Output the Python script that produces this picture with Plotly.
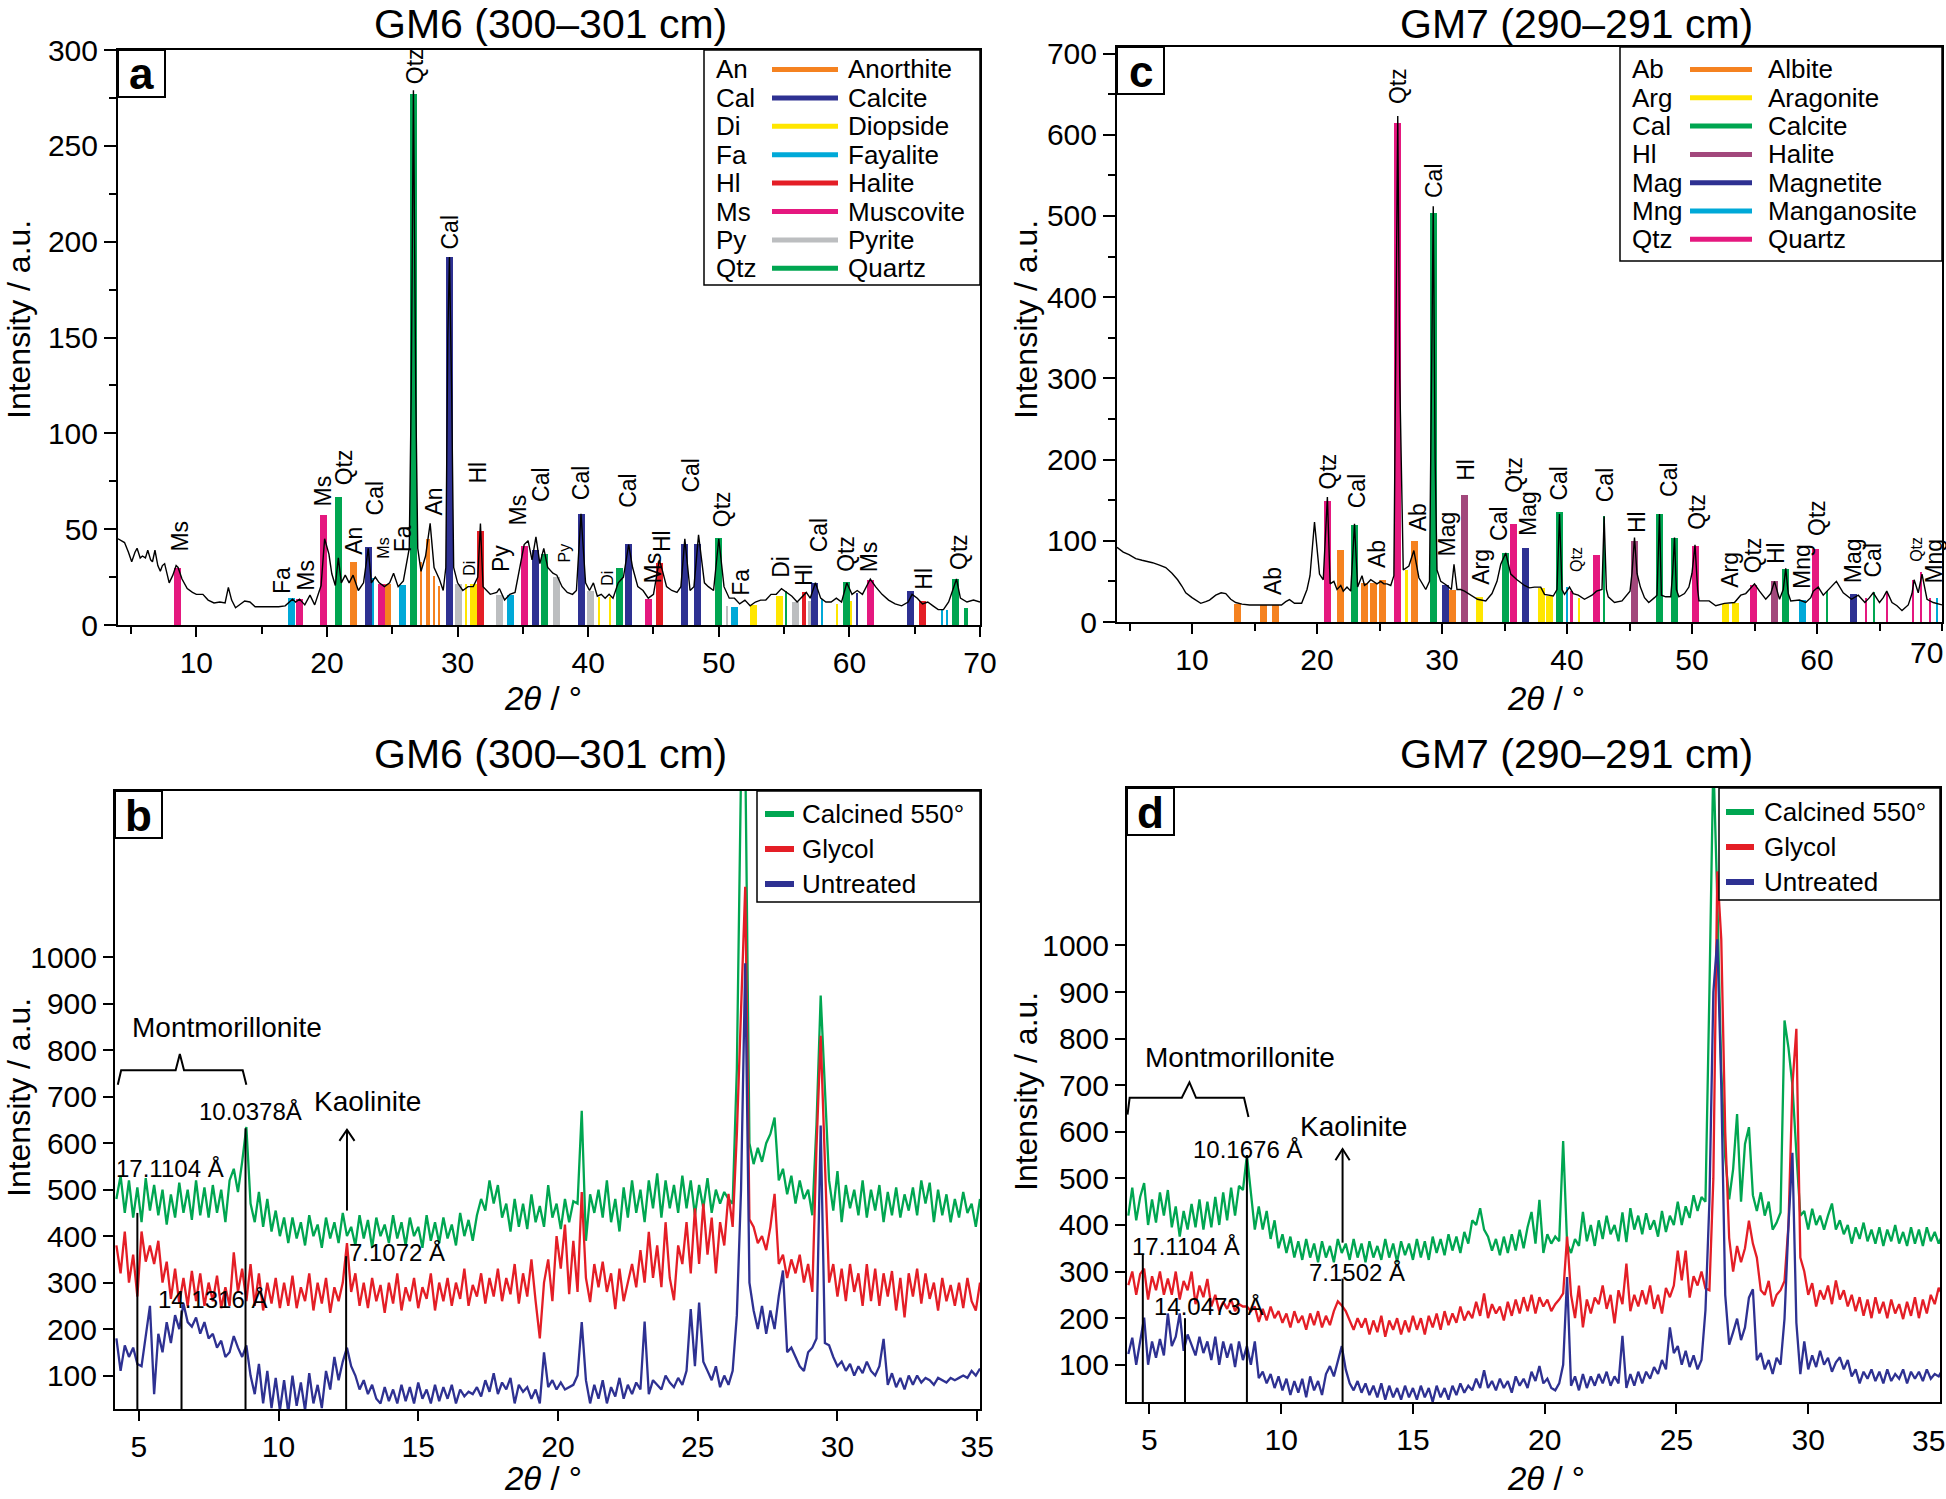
import plotly.graph_objects as go

W, H = 1946, 1499
SANS = "Liberation Sans, Arial, Helvetica, sans-serif"

# ============================ DATA ============================
# ---- Panel a : GM6 (300-301 cm) bulk XRD ----
a_pattern = [(4.0, 45), (4.25, 44), (4.5, 43), (4.8, 38), (5.05, 33), (5.3, 38), (5.46, 40), (5.7, 35), (5.87, 36),
             (6.1, 35), (6.28, 39), (6.5, 34), (6.64, 33), (6.83, 39), (7.05, 31), (7.24, 28), (7.4, 31), (7.57, 32),
             (7.75, 26), (7.92, 22), (8.2, 26), (8.45, 31), (8.6, 30), (8.9, 24), (9.3, 19), (9.7, 17), (10.0, 16),
             (10.5, 16), (10.9, 13), (11.35, 11.5), (11.8, 12), (12.2, 11.5), (12.45, 19.6), (12.7, 13), (13.0, 9),
             (13.4, 11), (13.7, 12.5), (14.1, 12), (14.5, 9.5), (15.0, 9.5), (15.7, 9.5), (16.3, 9.5), (16.8, 10),
             (17.36, 13.5), (17.6, 12), (17.9, 13.5), (18.3, 10.5), (18.7, 15.6), (19.06, 10.5), (19.55, 20.6),
             (19.82, 45), (20.15, 37), (20.37, 26.7), (20.64, 20.6), (20.87, 35), (21.1, 22), (21.4, 26), (21.7, 22),
             (22.0, 26), (22.4, 18), (22.8, 22), (23.16, 40), (23.4, 22), (23.7, 25), (24.0, 22), (24.4, 20),
             (24.8, 22), (25.1, 27), (25.45, 20), (25.85, 23), (26.3, 40), (26.45, 120), (26.62, 279), (26.8, 120),
             (26.95, 40), (27.2, 28), (27.55, 36), (27.9, 53), (28.2, 30), (28.6, 24), (28.9, 18), (29.1, 30),
             (29.25, 150), (29.38, 192), (29.55, 120), (29.7, 30), (30.0, 22), (30.4, 18), (30.8, 20), (31.2, 20),
             (31.55, 25), (31.75, 53), (31.95, 20), (32.5, 16), (33.0, 17), (33.2, 19), (33.6, 13), (34.0, 16),
             (34.4, 17), (34.8, 32), (35.1, 42), (35.4, 44), (35.7, 34), (36.0, 46), (36.3, 32), (36.6, 40),
             (36.9, 30), (37.3, 27), (37.6, 26), (38.0, 20), (38.4, 17), (38.8, 16), (39.1, 18), (39.45, 58),
             (39.8, 22), (40.1, 18), (40.4, 22), (40.7, 15), (41.0, 16), (41.3, 14), (41.6, 16), (41.9, 14),
             (42.3, 22), (42.7, 25), (43.1, 42), (43.4, 30), (43.8, 20), (44.2, 18), (44.6, 14), (45.0, 16),
             (45.45, 34), (45.7, 28), (46.0, 20), (46.4, 18), (46.8, 17), (47.1, 20), (47.4, 45), (47.8, 18),
             (48.1, 20), (48.45, 47), (48.9, 22), (49.2, 20), (49.6, 18), (50.0, 45), (50.4, 20), (50.8, 14),
             (51.2, 14), (51.6, 11), (52.0, 13), (52.4, 10), (52.8, 12), (53.2, 13), (53.6, 13), (54.0, 16),
             (54.4, 16), (54.8, 19), (55.2, 17), (55.6, 15), (56.0, 12), (56.4, 15), (56.7, 17), (57.0, 14),
             (57.4, 22), (57.8, 14), (58.2, 12), (58.6, 12), (59.0, 14), (59.4, 12), (59.8, 22), (60.2, 16),
             (60.6, 18), (61.0, 16), (61.6, 24), (62.0, 20), (62.5, 16), (63.0, 13), (63.5, 11), (64.0, 10),
             (64.5, 12), (64.8, 16), (65.2, 14), (65.6, 11), (66.0, 12), (66.4, 10), (66.8, 8), (67.2, 8),
             (67.6, 12), (68.0, 20), (68.2, 24), (68.5, 14), (69.0, 12), (69.5, 13), (70.0, 12)]

a_stick_x = [8.53, 17.3, 17.9, 19.77, 20.87, 22.04, 23.16, 23.5, 24.15, 24.6, 25.8, 26.62, 27.2, 27.76, 28.17,
             28.58, 29.36, 30.1, 30.65, 31.2, 31.73, 33.2, 34.06, 35.15, 36.0, 36.66, 37.6, 39.45, 40.15, 40.8,
             41.65, 42.38, 43.1, 44.62, 45.45, 47.37, 48.4, 50.0, 50.64, 51.2, 52.65, 54.64, 55.15, 55.87, 56.5,
             56.94, 57.35, 57.9, 59.03, 59.74, 60.15, 60.58, 61.6, 64.64, 65.6, 67.1, 67.5, 68.1, 68.93]
a_stick_h = [30, 14, 13.5, 57.6, 67, 32.7, 40.8, 24.6, 21.6, 21.6, 21, 277, 32.7, 44.8, 25.6,
             20.6, 192, 21.6, 21.6, 21.6, 48.9, 15.6, 15.6, 41.2, 39.2, 37.2, 25, 58, 17.6, 14.5,
             14.5, 29.7, 42.4, 13.5, 32.3, 42.4, 42.4, 45.3, 10, 9.5, 10.5, 15, 18, 12, 17,
             12.5, 22, 13.5, 11, 22.6, 12.5, 16.6, 23.6, 17.6, 12.5, 8, 8, 24, 8.9]
a_stick_phase = ["Ms", "Fa", "Ms", "Ms", "Qtz", "An", "Cal", "Fa", "Ms", "An", "Fa", "Qtz", "An", "An", "An",
                 "An", "Cal", "Py", "Di", "Di", "Hl", "Py", "Fa", "Ms", "Cal", "Qtz", "Py", "Cal", "Py", "Di",
                 "Di", "Qtz", "Cal", "Ms", "Hl", "Cal", "Cal", "Qtz", "Py", "Fa", "Di", "Di", "Qtz", "Py", "Hl",
                 "Py", "Cal", "Fa", "Di", "Qtz", "Di", "Cal", "Ms", "Cal", "Hl", "Fa", "Fa", "Qtz", "Qtz"]

a_label_text = ["Ms", "Fa", "Ms", "Ms", "Qtz", "An", "Cal", "Ms", "Fa", "Qtz", "An", "Cal", "Di", "Hl", "Py",
                "Ms", "Cal", "Py", "Cal", "Di", "Cal", "Ms", "Hl", "Cal", "Qtz", "Fa", "Di", "Hl", "Cal", "Qtz",
                "Ms", "Hl", "Qtz"]
a_label_x = [8.75, 16.5, 18.4, 19.7, 21.33, 22.1, 23.7, 24.35, 25.85, 26.8, 28.18, 29.4, 30.9, 31.6, 33.38,
             34.6, 36.4, 38.2, 39.4, 41.5, 43.0, 45.0, 45.7, 47.9, 50.25, 51.7, 54.77, 56.56, 57.7, 59.74,
             61.5, 65.74, 68.4]
a_label_y = [37, 15, 16.6, 60.6, 72, 35.8, 56, 33.7, 36.8, 281, 56, 195, 24.6, 73, 26.7,
             51, 63, 31.7, 64, 19.6, 60, 20.6, 36.8, 68, 50, 14.5, 23.6, 19.6, 36.8, 26.7,
             26.7, 17.6, 27.7]

a_legend_abbr = ["An", "Cal", "Di", "Fa", "Hl", "Ms", "Py", "Qtz"]
a_legend_name = ["Anorthite", "Calcite", "Diopside", "Fayalite", "Halite", "Muscovite", "Pyrite", "Quartz"]

# ---- Panel c : GM7 (290-291 cm) bulk XRD ----
c_pattern = [(4.0, 92), (4.5, 86), (4.96, 83), (5.5, 78), (6.0, 76), (6.84, 73), (7.4, 70), (7.9, 67), (8.4, 60),
             (8.85, 52), (9.2, 44), (9.5, 36), (10.0, 30), (10.7, 23), (11.1, 25), (11.4, 27), (11.9, 33),
             (12.33, 36), (12.7, 35), (13.1, 28), (13.5, 24), (14.0, 22), (14.6, 21), (15.5, 21), (16.5, 21),
             (17.16, 21), (17.5, 25), (17.8, 27.5), (18.2, 23), (18.77, 23), (19.2, 40), (19.44, 57), (19.8, 123),
             (20.2, 59), (20.5, 52), (20.83, 154), (21.05, 47), (21.35, 50), (21.6, 40), (21.9, 45), (22.1, 38),
             (22.4, 43), (22.7, 38), (23.0, 121), (23.25, 43), (23.6, 57), (23.8, 45), (24.0, 47), (24.3, 52),
             (24.5, 50), (24.8, 47), (25.1, 50), (25.35, 47), (25.6, 47), (25.9, 45), (26.15, 57), (26.3, 300),
             (26.46, 623), (26.62, 300), (26.9, 64), (27.35, 69), (27.75, 88), (28.15, 54.5), (28.7, 40),
             (29.0, 50), (29.15, 300), (29.3, 512), (29.45, 200), (29.6, 64), (29.9, 50), (30.4, 45), (30.75, 40),
             (30.96, 71), (31.2, 40), (31.5, 40), (31.8, 38), (32.3, 33), (32.84, 28), (33.5, 26), (34.0, 35),
             (34.4, 50), (34.7, 71), (35.1, 85), (35.5, 59), (36.0, 52), (36.6, 45), (37.0, 42), (37.4, 43),
             (37.9, 43), (38.2, 34), (38.9, 32), (39.2, 40), (39.4, 133), (39.6, 40), (39.8, 34), (40.2, 43),
             (40.5, 35), (40.9, 33), (41.4, 28), (42.0, 33), (42.36, 38), (42.8, 40), (42.97, 130), (43.15, 40),
             (43.3, 31), (43.8, 24), (44.4, 26), (45.04, 38), (45.2, 60), (45.4, 104), (45.6, 60), (45.87, 43),
             (46.2, 30), (46.54, 24), (47.0, 30), (47.2, 33), (47.4, 133), (47.55, 33), (47.9, 31), (48.3, 31),
             (48.45, 60), (48.6, 104), (48.75, 40), (48.95, 31), (49.4, 35), (49.75, 43), (50.0, 60), (50.24, 95),
             (50.45, 40), (50.56, 26), (51.0, 26), (51.37, 26), (51.9, 20), (52.6, 23), (53.4, 24), (53.9, 33),
             (54.3, 35), (54.6, 40), (55.0, 47), (55.4, 38), (55.9, 28), (56.3, 35), (56.6, 50), (57.0, 28),
             (57.3, 40), (57.5, 66), (57.7, 35), (57.9, 26), (58.6, 27), (59.1, 24), (59.5, 30), (59.7, 38),
             (60.1, 43), (60.5, 33), (61.15, 43), (61.55, 50), (62.1, 36), (62.76, 28), (63.3, 33), (63.83, 24),
             (64.2, 30), (64.5, 36), (65.0, 24), (65.3, 30), (65.58, 38), (66.0, 24), (66.4, 20), (66.8, 14),
             (67.3, 21), (67.6, 35), (67.77, 52), (68.1, 36), (68.4, 59), (68.8, 28), (69.3, 24), (70.0, 21)]

c_stick_x = [13.62, 15.74, 16.68, 20.83, 21.9, 23.0, 23.78, 24.48, 25.25, 26.46, 27.16, 27.83, 29.3, 30.3,
             30.83, 31.8, 33.0, 35.04, 35.7, 36.65, 37.94, 38.6, 39.4, 39.97, 40.36, 40.95, 42.37, 42.98,
             45.42, 47.4, 48.63, 50.24, 52.65, 53.46, 54.9, 56.6, 57.48, 58.8, 59.84, 60.8, 62.95, 63.9,
             64.58, 65.58, 67.7, 68.34, 69.06, 69.6]
c_stick_h = [22.7, 21, 21, 149, 88.6, 119, 48, 48, 52, 615, 64, 100, 504, 45,
             40, 156, 31, 85, 121, 91, 42, 32, 135, 43, 38, 29, 83, 130,
             99.5, 133, 104, 94, 22.7, 23.7, 46, 51, 65, 27.5, 90, 38, 34, 29,
             37, 37, 52, 62, 29, 29]
c_stick_phase = ["Ab", "Ab", "Ab", "Qtz", "Ab", "Cal", "Ab", "Ab", "Ab", "Qtz", "Arg", "Ab", "Cal", "Mag",
                 "Ab", "Hl", "Arg", "Cal", "Qtz", "Mag", "Arg", "Arg", "Cal", "Mng", "Qtz", "Arg", "Qtz", "Cal",
                 "Hl", "Cal", "Cal", "Qtz", "Arg", "Arg", "Qtz", "Hl", "Cal", "Mng", "Qtz", "Cal", "Mag", "Qtz",
                 "Cal", "Qtz", "Qtz", "Qtz", "Qtz", "Mng"]

c_label_text = ["Ab", "Qtz", "Cal", "Ab", "Qtz", "Ab", "Cal", "Mag", "Hl", "Arg", "Cal", "Qtz", "Mag", "Cal",
                "Qtz", "Cal", "Hl", "Cal", "Qtz", "Arg", "Qtz", "Hl", "Mng", "Qtz", "Mag", "Cal", "Qtz", "Mng"]
c_label_x = [16.5, 20.9, 23.2, 24.8, 26.54, 28.15, 29.36, 30.43, 31.9, 33.1, 34.5, 35.8, 36.87, 39.4,
             40.75, 43.0, 45.6, 48.15, 50.4, 52.98, 54.85, 56.73, 58.74, 59.95, 62.9, 64.5, 68.0, 69.33]
c_label_y = [31, 161, 137, 64, 635, 109, 519, 78, 171, 43, 97, 156, 104, 147,
             59, 145, 107, 152, 111, 40, 57, 69, 38, 104, 45, 52, 71, 45]

c_legend_abbr = ["Ab", "Arg", "Cal", "Hl", "Mag", "Mng", "Qtz"]
c_legend_name = ["Albite", "Aragonite", "Calcite", "Halite", "Magnetite", "Manganosite", "Quartz"]

# ---- Panels b & d : clay fraction scans, 2θ grid start / step ----
scan_start = 4.2
scan_step = 0.15
series_names = ["Calcined 550°", "Glycol", "Untreated"]

b_calcined = [
    480, 530, 450, 520, 440, 505, 430, 525, 455, 510,   # 4.20
    445, 500, 425, 490, 440, 515, 450, 500, 435, 520,   # 5.70
    445, 505, 440, 510, 450, 500, 430, 520, 545, 495,   # 7.20
    560, 635, 470, 430, 495, 420, 480, 410, 455, 400,   # 8.70
    440, 385, 440, 395, 430, 380, 445, 400, 425, 375,   # 10.20
    440, 395, 430, 385, 450, 400, 420, 380, 445, 395,   # 11.70
    435, 375, 440, 400, 425, 385, 445, 395, 430, 380,   # 13.20
    440, 400, 420, 375, 445, 390, 430, 385, 440, 395,   # 14.70
    425, 380, 450, 400, 435, 390, 445, 480, 455, 520,   # 16.20
    470, 510, 440, 470, 410, 480, 420, 470, 415, 490,   # 17.70
    430, 465, 420, 510, 440, 470, 415, 480, 430, 475,   # 19.20
    470, 670, 390, 490, 450, 500, 440, 520, 430, 480,   # 20.70
    410, 505, 440, 520, 450, 500, 430, 520, 460, 535,   # 22.20
    440, 520, 460, 510, 450, 530, 460, 520, 445, 510,   # 23.70
    460, 525, 450, 500, 470, 495, 480, 470, 760, 1400,  # 25.20
    1450, 600, 555, 590, 560, 600, 620, 655, 520, 545,  # 26.70
    490, 530, 470, 520, 480, 500, 445, 640, 918, 700,   # 28.20
    520, 455, 540, 430, 510, 460, 500, 445, 520, 440,   # 29.70
    500, 455, 510, 430, 495, 445, 505, 440, 490, 455,   # 31.20
    505, 445, 520, 470, 515, 430, 500, 445, 490, 430,   # 32.70
    480, 440, 495, 450, 470, 420, 480]                  # 34.20
b_glycol = [
    380, 320, 410, 300, 360, 270, 410, 345, 380, 340,
    390, 300, 345, 265, 330, 255, 310, 250, 325, 260,
    320, 250, 300, 260, 315, 245, 290, 250, 365, 280,
    330, 260, 340, 250, 320, 240, 300, 255, 310, 245,
    300, 250, 315, 245, 290, 260, 320, 240, 300, 255,
    310, 235, 290, 260, 300, 385, 280, 320, 250, 300,
    245, 310, 260, 295, 235, 300, 255, 320, 240, 290,
    260, 310, 245, 290, 265, 320, 240, 300, 260, 310,
    250, 300, 265, 330, 250, 295, 270, 320, 255, 310,
    270, 330, 260, 310, 275, 340, 255, 320, 270, 350,
    260, 180, 300, 350, 260, 400, 330, 425, 275, 390,
    280, 495, 310, 258, 340, 290, 345, 280, 320, 243,
    330, 260, 300, 340, 290, 370, 300, 409, 310, 380,
    290, 430, 310, 262, 380, 340, 430, 320, 460, 340,
    470, 360, 440, 320, 430, 380, 491, 420, 620, 900,
    1152, 436, 420, 385, 400, 370, 420, 491, 340, 360,
    310, 350, 320, 360, 300, 340, 280, 592, 831, 560,
    300, 340, 270, 330, 260, 340, 280, 320, 250, 340,
    260, 330, 250, 320, 270, 325, 240, 310, 225, 320,
    270, 330, 255, 320, 265, 300, 240, 310, 260, 295,
    250, 300, 245, 310, 260, 240, 300]
b_untreated = [
    180, 110, 165, 140, 160, 125, 120, 180, 250, 60,
    190, 150, 215, 170, 230, 200, 255, 215, 205, 225,
    190, 215, 180, 190, 160, 175, 140, 150, 185, 160,
    140, 165, 100, 60, 125, 40, 110, 30, 95, 25,
    90, 20, 100, 35, 85, 25, 105, 40, 80, 30,
    110, 70, 140, 90, 130, 160, 120, 100, 70, 90,
    60, 80, 50, 40, 75, 45, 70, 40, 80, 45,
    75, 40, 85, 50, 70, 40, 80, 45, 75, 50,
    80, 40, 70, 55, 65, 60, 75, 55, 90, 65,
    105, 60, 85, 70, 95, 40, 80, 65, 75, 50,
    70, 40, 150, 75, 90, 70, 85, 70, 75, 80,
    100, 215, 90, 40, 80, 50, 90, 40, 75, 55,
    95, 50, 80, 60, 85, 70, 216, 60, 90, 80,
    70, 100, 85, 75, 95, 80, 110, 243, 120, 257,
    130, 110, 90, 120, 75, 100, 80, 110, 230, 500,
    987, 300, 240, 200, 250, 190, 240, 200, 271, 326,
    150, 160, 140, 120, 110, 150, 160, 180, 638, 170,
    165, 140, 120, 130, 110, 125, 100, 120, 105, 130,
    110, 100, 120, 179, 80, 105, 75, 95, 70, 100,
    80, 100, 85, 95, 90, 80, 95, 90, 85, 95,
    90, 95, 100, 95, 110, 100, 115]

d_calcined = [
    420, 480, 410, 460, 490, 400, 455, 405, 470, 420,
    475, 395, 440, 375, 430, 390, 445, 395, 455, 390,
    450, 395, 460, 400, 470, 410, 480, 420, 484, 475,
    550, 470, 390, 440, 390, 430, 370, 410, 350, 380,
    340, 375, 330, 365, 325, 370, 330, 360, 320, 365,
    330, 355, 320, 370, 340, 360, 325, 370, 330, 360,
    320, 365, 330, 355, 325, 370, 330, 360, 320, 365,
    335, 360, 325, 370, 330, 365, 325, 375, 340, 370,
    335, 380, 345, 375, 340, 385, 360, 410, 400, 436,
    390, 375, 345, 370, 335, 375, 340, 380, 345, 390,
    350, 395, 428, 360, 454, 340, 380, 360, 375, 365,
    580, 360, 340, 370, 355, 428, 365, 400, 355, 410,
    370, 420, 380, 400, 365, 427, 363, 436, 390, 420,
    380, 425, 390, 410, 375, 430, 385, 420, 400, 450,
    400, 440, 415, 464, 430, 460, 450, 900, 1400, 1100,
    730, 545, 455, 520, 638, 450, 574, 610, 464, 430,
    470, 420, 450, 390, 405, 427, 839, 780, 700, 555,
    420, 430, 390, 435, 400, 420, 390, 420, 446, 390,
    410, 380, 400, 360, 395, 370, 405, 365, 390, 360,
    395, 355, 390, 365, 400, 360, 385, 355, 395, 360,
    390, 355, 395, 365, 385, 360, 380]
d_glycol = [
    271, 300, 250, 295, 306, 240, 290, 260, 300, 250,
    285, 250, 300, 240, 280, 260, 300, 230, 270, 245,
    284, 225, 250, 215, 235, 220, 240, 215, 230, 225,
    225, 215, 225, 192, 220, 195, 225, 200, 215, 190,
    210, 180, 215, 190, 205, 175, 210, 185, 215, 180,
    205, 185, 215, 236, 227, 215, 195, 175, 200, 180,
    200, 165, 195, 170, 205, 160, 195, 175, 200, 165,
    195, 170, 205, 175, 200, 165, 205, 180, 210, 175,
    215, 185, 210, 190, 225, 195, 215, 200, 235, 205,
    253, 200, 230, 210, 225, 195, 235, 205, 240, 210,
    245, 215, 250, 210, 245, 225, 240, 215, 230, 240,
    253, 375, 250, 200, 270, 180, 240, 210, 244, 230,
    270, 220, 250, 189, 260, 230, 317, 215, 250, 225,
    260, 230, 270, 220, 250, 210, 265, 245, 270, 345,
    281, 345, 244, 290, 270, 300, 264, 260, 500, 1159,
    1013, 600, 372, 300, 355, 320, 350, 409, 360, 330,
    260, 250, 280, 225, 250, 260, 280, 400, 700, 821,
    330, 300, 250, 275, 225, 260, 240, 270, 230, 281,
    240, 260, 225, 250, 215, 245, 205, 240, 200, 245,
    210, 235, 200, 240, 210, 230, 198, 235, 205, 245,
    200, 240, 210, 250, 230, 265, 250]
d_untreated = [
    123, 158, 100, 150, 201, 100, 150, 115, 155, 120,
    210, 140, 160, 210, 130, 165, 140, 120, 160, 125,
    150, 110, 160, 100, 150, 115, 145, 95, 150, 110,
    140, 100, 150, 71, 85, 60, 80, 50, 75, 45,
    70, 35, 65, 40, 70, 30, 75, 45, 65, 35,
    80, 97, 75, 110, 140, 90, 60, 45, 65, 40,
    60, 35, 55, 30, 60, 25, 55, 30, 50, 25,
    55, 30, 50, 25, 55, 30, 50, 20, 55, 30,
    50, 25, 55, 35, 60, 40, 55, 45, 70, 50,
    88, 50, 65, 45, 70, 50, 65, 40, 75, 55,
    70, 50, 85, 65, 97, 60, 70, 50, 45, 60,
    100, 288, 55, 75, 45, 80, 50, 75, 55, 80,
    60, 85, 55, 75, 60, 162, 50, 80, 55, 85,
    60, 85, 70, 95, 80, 110, 90, 180, 125, 140,
    100, 130, 95, 120, 90, 110, 217, 450, 900, 1013,
    700, 250, 143, 170, 199, 153, 180, 244, 262, 110,
    125, 90, 110, 80, 115, 100, 199, 400, 555, 190,
    80, 150, 90, 120, 95, 130, 100, 115, 85, 105,
    116, 90, 110, 75, 90, 60, 85, 70, 90, 65,
    85, 60, 90, 65, 80, 70, 90, 60, 85, 70,
    85, 65, 90, 70, 80, 75, 90]

# d-spacing markers (2θ position, top of marker line) and their labels
b_marker_x = [4.95, 6.53, 8.82, 12.42]
b_marker_top = [450, 240, 632, 357]
b_dspacing_text = ["17.1104 Å", "14.1316 Å", "10.0378Å", "7.1072 Å"]
b_dspacing_x = [6.1, 7.65, 9.0, 14.25]
b_dspacing_y = [546, 263, 669, 364]
b_kaolinite_x, b_kaolinite_from, b_kaolinite_to = 12.45, 455, 629
b_montmor_bracket = [(4.25, 726), (4.37, 757), (6.32, 757), (6.47, 792), (6.62, 757), (8.72, 757), (8.85, 726)]
b_montmor_label = (8.15, 848)
b_kaolinite_label = (13.2, 689)

d_marker_x = [4.75, 6.35, 8.7, 12.33]
d_marker_top = [338, 200, 550, 285]
d_dspacing_text = ["17.1104 Å", "14.0473 Å", "10.1676 Å", "7.1502 Å"]
d_dspacing_x = [6.39, 7.25, 8.74, 12.89]
d_dspacing_y = [354, 226, 563, 299]
d_kaolinite_x, d_kaolinite_from, d_kaolinite_to = 12.33, 362, 563
d_montmor_bracket = [(4.17, 637), (4.25, 673), (6.23, 673), (6.52, 706), (6.77, 673), (8.59, 673), (8.76, 632)]
d_montmor_label = (8.45, 759)
d_kaolinite_label = (12.75, 611)

# ============================ STYLE ============================
a_phase_color = {"An": "#F58220", "Cal": "#2E3192", "Di": "#FFE600", "Fa": "#00A9D8", "Hl": "#E41E26",
                 "Ms": "#E5187F", "Py": "#BCBEC0", "Qtz": "#00A651"}
c_phase_color = {"Ab": "#F58220", "Arg": "#FFE600", "Cal": "#00A651", "Hl": "#A2487C", "Mag": "#2E3192",
                 "Mng": "#00A9D8", "Qtz": "#E5187F"}
series_color = ["#00A651", "#E41E26", "#2E3192"]
a_stick_weight = [0, 0, 0, 0, 0, 0, 0, 2, 0, 0, 0, 0, 2, 1, 2,
                  2, 0, 0, 2, 0, 0, 0, 0, 0, 0, 0, 0, 0, 0, 2,
                  2, 0, 0, 0, 0, 0, 0, 0, 2, 0, 0, 0, 2, 0, 1,
                  2, 0, 2, 2, 0, 2, 2, 0, 0, 0, 2, 2, 0, 1]
c_stick_weight = [0, 0, 0, 0, 0, 0, 0, 0, 0, 0, 2, 0, 0, 0,
                  0, 0, 0, 0, 0, 0, 0, 0, 0, 2, 2, 2, 0, 2,
                  0, 0, 0, 0, 0, 0, 0, 0, 0, 0, 0, 2, 0, 2,
                  2, 2, 2, 2, 2, 2]
weight_px = {0: 7.0, 1: 4.0, 2: 2.2}
a_label_small = {7, 12, 17, 19}
c_label_small = {14, 26}

# panel frames in pixels: (left, right, top, bottom)
FR = {"a": (118, 980, 50, 625), "c": (1117, 1942, 47, 622),
      "b": (115, 980, 791, 1409), "d": (1127, 1940, 788, 1402)}
RANGES = {"a": ([4, 70], [0, 300]), "c": ([4, 70], [0, 708]),
          "b": ([4.15, 35.1], [28, 1358]), "d": ([4.15, 35.0], [20, 1338])}
AX = {"a": ("x", "y"), "c": ("x2", "y2"), "b": ("x3", "y3"), "d": ("x4", "y4")}
TICK_A = 30
TITLE = 41


def fx(p):
    return p / W


def fy(p):
    return 1 - p / H


fig = go.Figure()


def add_sticks(panel, xs, hs, phases, weights, colors):
    xa, ya = AX[panel]
    l, r, _, _ = FR[panel]
    upx = (RANGES[panel][0][1] - RANGES[panel][0][0]) / (r - l)
    for ph in colors:
        idx = [i for i, p in enumerate(phases) if p == ph]
        if not idx:
            continue
        fig.add_trace(go.Bar(x=[xs[i] for i in idx], y=[hs[i] for i in idx],
                             width=[weight_px[weights[i]] * upx for i in idx],
                             marker=dict(color=colors[ph], line=dict(width=0)),
                             xaxis=xa, yaxis=ya, showlegend=False, hoverinfo="skip"))


add_sticks("a", a_stick_x, a_stick_h, a_stick_phase, a_stick_weight, a_phase_color)
fig.add_trace(go.Scatter(x=[p[0] for p in a_pattern], y=[p[1] for p in a_pattern], mode="lines",
                         line=dict(color="black", width=1.4), xaxis="x", yaxis="y", showlegend=False))
add_sticks("c", c_stick_x, c_stick_h, c_stick_phase, c_stick_weight, c_phase_color)
fig.add_trace(go.Scatter(x=[p[0] for p in c_pattern], y=[p[1] for p in c_pattern], mode="lines",
                         line=dict(color="black", width=1.4), xaxis="x2", yaxis="y2", showlegend=False))

for panel, series in (("b", [b_calcined, b_glycol, b_untreated]), ("d", [d_calcined, d_glycol, d_untreated])):
    xa, ya = AX[panel]
    for vals, col in zip(series, series_color):
        xs = [scan_start + scan_step * i for i in range(len(vals))]
        fig.add_trace(go.Scatter(x=xs, y=vals, mode="lines", line=dict(color=col, width=2.3),
                                 xaxis=xa, yaxis=ya, showlegend=False, hoverinfo="skip"))

annotations = []
shapes = []


def ann(text, x, y, size, xref="paper", yref="paper", xanchor="center", yanchor="middle", angle=0):
    annotations.append(dict(text=text, x=x, y=y, xref=xref, yref=yref, xanchor=xanchor, yanchor=yanchor,
                            textangle=angle, showarrow=False, font=dict(size=size, color="black", family=SANS)))


# phase labels
for i, (txt, lx, ly) in enumerate(zip(a_label_text, a_label_x, a_label_y)):
    ann(txt, lx, ly, 16 if i in a_label_small else 23, "x", "y", yanchor="bottom", angle=-90)
for i, (txt, lx, ly) in enumerate(zip(c_label_text, c_label_x, c_label_y)):
    ann(txt, lx, ly, 16 if i in c_label_small else 23, "x2", "y2", yanchor="bottom", angle=-90)


# legends for a / c
def phase_legend(box, abbrs, names, colors, row0, dy, ax_, lx0, lx1, nx):
    shapes.append(dict(type="rect", xref="paper", yref="paper", x0=fx(box[0]), x1=fx(box[1]),
                       y0=fy(box[3]), y1=fy(box[2]), line=dict(color="black", width=1.5), fillcolor="white",
                       layer="above"))
    for k, (ab, nm) in enumerate(zip(abbrs, names)):
        yy = row0 + dy * k
        ann(ab, fx(ax_), fy(yy), 26, xanchor="left")
        ann(nm, fx(nx), fy(yy), 26, xanchor="left")
        shapes.append(dict(type="line", xref="paper", yref="paper", x0=fx(lx0), x1=fx(lx1), y0=fy(yy),
                           y1=fy(yy), line=dict(color=colors[ab], width=5), layer="above"))


phase_legend((704, 980, 50, 285), a_legend_abbr, a_legend_name, a_phase_color, 69.5, 28.4, 714, 772, 838, 846)
phase_legend((1620, 1942, 47, 261), c_legend_abbr, c_legend_name, c_phase_color, 69.5, 28.3, 1630, 1690, 1752,
             1766)


# legends for b / d
def series_legend(box, row0, dy, lx0, lx1, tx):
    shapes.append(dict(type="rect", xref="paper", yref="paper", x0=fx(box[0]), x1=fx(box[1]),
                       y0=fy(box[3]), y1=fy(box[2]), line=dict(color="black", width=1.5), fillcolor="white",
                       layer="above"))
    for k, (nm, col) in enumerate(zip(series_names, series_color)):
        yy = row0 + dy * k
        shapes.append(dict(type="line", xref="paper", yref="paper", x0=fx(lx0), x1=fx(lx1), y0=fy(yy),
                           y1=fy(yy), line=dict(color=col, width=6), layer="above"))
        ann(nm, fx(tx), fy(yy), 26, xanchor="left")


series_legend((757, 980, 791, 902), 814, 35, 765, 794, 800)
series_legend((1719, 1940, 788, 900), 812, 35, 1726, 1754, 1762)


# markers, brackets, arrows in b / d
def clay_marks(panel, mx, mtop, dtxt, dx, dyv, kx, kfrom, kto, bracket, mlabel, klabel):
    xa, ya = AX[panel]
    ybot = RANGES[panel][1][0]
    for x, t in zip(mx, mtop):
        shapes.append(dict(type="line", xref=xa, yref=ya, x0=x, x1=x, y0=ybot, y1=t,
                           line=dict(color="black", width=2)))
    for t, x, y in zip(dtxt, dx, dyv):
        ann(t, x, y, 24, xa, ya)
    shapes.append(dict(type="line", xref=xa, yref=ya, x0=kx, x1=kx, y0=kfrom, y1=kto,
                       line=dict(color="black", width=2)))
    shapes.append(dict(type="path", xref=xa, yref=ya,
                       path=f"M {kx - 0.27},{kto - 24} L {kx},{kto} L {kx + 0.27},{kto - 24}",
                       line=dict(color="black", width=2)))
    path = "M " + " L ".join(f"{x},{y}" for x, y in bracket)
    shapes.append(dict(type="path", xref=xa, yref=ya, path=path, line=dict(color="black", width=2)))
    ann("Montmorillonite", mlabel[0], mlabel[1], 28, xa, ya)
    ann("Kaolinite", klabel[0], klabel[1], 28, xa, ya)


clay_marks("b", b_marker_x, b_marker_top, b_dspacing_text, b_dspacing_x, b_dspacing_y, b_kaolinite_x,
           b_kaolinite_from, b_kaolinite_to, b_montmor_bracket, b_montmor_label, b_kaolinite_label)
clay_marks("d", d_marker_x, d_marker_top, d_dspacing_text, d_dspacing_x, d_dspacing_y, d_kaolinite_x,
           d_kaolinite_from, d_kaolinite_to, d_montmor_bracket, d_montmor_label, d_kaolinite_label)

# panel letters
for letter, (l, _, t, _) in FR.items():
    shapes.append(dict(type="rect", xref="paper", yref="paper", x0=fx(l), x1=fx(l + 47), y0=fy(t + 47),
                       y1=fy(t), line=dict(color="black", width=2), fillcolor="white", layer="above"))
    ann(f"<b>{letter}</b>", fx(l + 23.5), fy(t + 24), 44)

# titles and axis titles
for txt, cx in (("GM6 (300–301 cm)", 550), ("GM7 (290–291 cm)", 1576)):
    ann(txt, fx(cx), fy(24), TITLE)
    ann(txt, fx(cx), fy(754), TITLE)
for cx, cy in ((19, 320), (1026, 320), (19, 1098), (1026, 1092)):
    ann("Intensity / a.u.", fx(cx), fy(cy), 32, angle=-90)
for cx, cy in ((543, 698), (1546, 698), (543, 1478), (1546, 1478)):
    ann("<i>2θ</i> / °", fx(cx), fy(cy), 33)
# last tick labels at the right page edge, pulled inside as in the original
ann("70", fx(1926), fy(652), TICK_A)
ann("35", fx(1928), fy(1440), 30)


def axis_common(panel, is_x):
    l, r, t, b = FR[panel]
    rng = RANGES[panel][0 if is_x else 1]
    d = dict(range=rng, showline=True, mirror=True, linecolor="black", linewidth=2, showgrid=False,
             zeroline=False, ticks="outside", tickcolor="black", tickwidth=2, automargin=False)
    if is_x:
        d["domain"] = [fx(l), fx(r)]
    else:
        d["domain"] = [fy(b), fy(t)]
    return d


layout = dict(template="none", width=W, height=H, autosize=False, margin=dict(l=0, r=0, t=0, b=0, pad=0),
              paper_bgcolor="white", plot_bgcolor="white", barmode="overlay", bargap=0, hovermode=False,
              showlegend=False, font=dict(family=SANS, color="black"))

for panel in ("a", "c"):
    xa, ya = AX[panel]
    xk = "xaxis" if xa == "x" else "xaxis" + xa[1:]
    yk = "yaxis" if ya == "y" else "yaxis" + ya[1:]
    xd = axis_common(panel, True)
    xvals = [10, 20, 30, 40, 50, 60, 70] if panel == "a" else [10, 20, 30, 40, 50, 60]
    minor_vals = [5, 15, 25, 35, 45, 55, 65] if panel == "a" else [5, 15, 25, 35, 45, 55, 65, 70]
    xd.update(anchor=ya, tickmode="array", tickvals=xvals, ticklen=10,
              tickfont=dict(size=TICK_A, family=SANS, color="black"),
              minor=dict(tickmode="array", tickvals=minor_vals, ticks="outside", ticklen=7,
                         tickwidth=2, tickcolor="black"))
    yd = axis_common(panel, False)
    ydt = 50 if panel == "a" else 100
    yd.update(anchor=xa, tick0=0, dtick=ydt, ticklen=12, tickfont=dict(size=TICK_A, family=SANS, color="black"),
              minor=dict(dtick=ydt / 2, tick0=0, ticks="outside", ticklen=7, tickwidth=2, tickcolor="black"))
    layout[xk] = xd
    layout[yk] = yd

for panel in ("b", "d"):
    xa, ya = AX[panel]
    xk = "xaxis" + xa[1:]
    yk = "yaxis" + ya[1:]
    xd = axis_common(panel, True)
    if panel == "b":
        xd.update(tick0=0, dtick=5)
    else:
        xd.update(tickmode="array", tickvals=[5, 10, 15, 20, 25, 30])
    xd.update(anchor=ya, ticklen=10, tickfont=dict(size=30, family=SANS, color="black"))
    yd = axis_common(panel, False)
    yd.update(anchor=xa, tickmode="array", tickvals=[100, 200, 300, 400, 500, 600, 700, 800, 900, 1000],
              ticklen=10, tickfont=dict(size=30, family=SANS, color="black"))
    layout[xk] = xd
    layout[yk] = yd

layout["annotations"] = annotations
layout["shapes"] = shapes
fig.update_layout(**layout)
fig.write_html("out.html", config={"displayModeBar": False},
               post_script="document.body.style.margin='0px';document.body.style.overflow='hidden';")
